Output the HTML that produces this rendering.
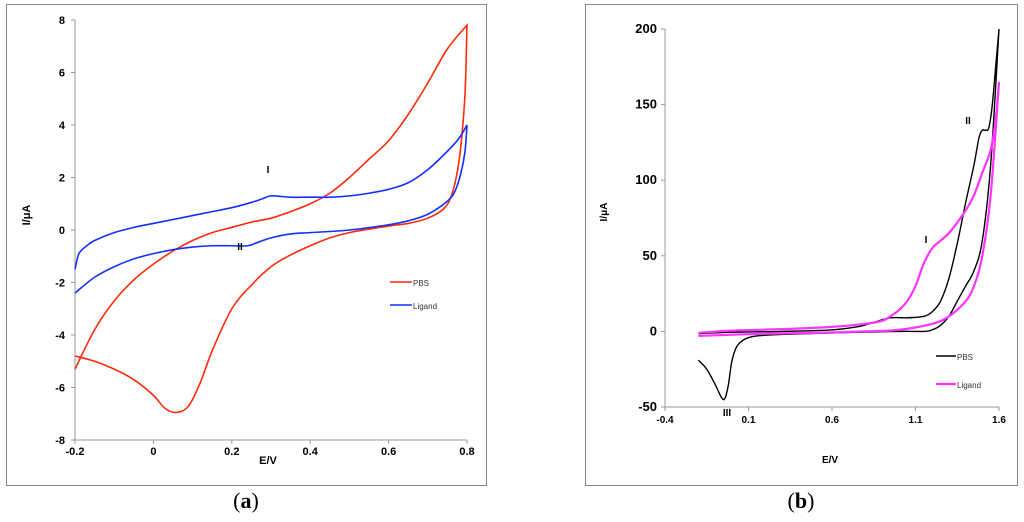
<!DOCTYPE html>
<html><head><meta charset="utf-8"><style>
body{margin:0;background:#fff;width:1024px;height:522px;overflow:hidden;font-family:"Liberation Sans",sans-serif}
svg{position:absolute;left:0;top:0}
</style></head><body>
<svg width="1024" height="522">
<rect x="6.5" y="4.5" width="480" height="481" fill="none" stroke="#888"/>
<rect x="585.5" y="4.5" width="432" height="481" fill="none" stroke="#888"/>
<g id="ga"></g>
<g id="gb"></g>
<text x="246" y="508" font-family="Liberation Serif,serif" font-size="22" text-anchor="middle">(<tspan font-weight="bold">a</tspan>)</text>
<text x="801" y="508" font-family="Liberation Serif,serif" font-size="22" text-anchor="middle">(<tspan font-weight="bold">b</tspan>)</text>
</svg>
<script>
const aXTicks=[-0.2,0,0.2,0.4,0.6,0.8];
const aYTicks=[-8,-6,-4,-2,0,2,4,6,8];
const aPbsX=[-0.2,-0.15,-0.1,-0.05,0,0.05,0.1,0.15,0.2,0.25,0.3,0.35,0.4,0.45,0.5,0.55,0.6,0.65,0.7,0.75,0.8,0.795,0.785,0.775,0.76,0.74,0.7,0.65,0.6,0.5,0.45,0.4,0.35,0.3,0.25,0.2,0.15,0.12,0.09,0.06,0.03,0,-0.05,-0.1,-0.15,-0.2];
const aPbsY=[-5.3,-3.8,-2.7,-1.9,-1.3,-0.8,-0.4,-0.1,0.1,0.3,0.45,0.7,1.0,1.4,2.0,2.7,3.4,4.4,5.6,6.9,7.8,5.2,3.3,2.2,1.3,0.8,0.45,0.25,0.15,-0.1,-0.3,-0.6,-0.95,-1.4,-2.1,-3.0,-4.6,-5.8,-6.7,-6.95,-6.8,-6.3,-5.7,-5.3,-5.0,-4.8];
const aLigX=[-0.2,-0.19,-0.17,-0.15,-0.1,-0.05,0,0.05,0.1,0.15,0.2,0.25,0.28,0.3,0.35,0.4,0.45,0.5,0.55,0.6,0.65,0.7,0.75,0.78,0.8,0.795,0.785,0.77,0.75,0.7,0.65,0.6,0.5,0.4,0.35,0.3,0.27,0.24,0.2,0.15,0.1,0.05,0,-0.05,-0.1,-0.15,-0.2];
const aLigY=[-1.5,-0.9,-0.6,-0.4,-0.1,0.1,0.25,0.4,0.55,0.7,0.85,1.05,1.2,1.3,1.25,1.25,1.25,1.3,1.4,1.55,1.8,2.3,3.0,3.5,4.0,3.0,2.2,1.5,1.1,0.6,0.35,0.2,0.0,-0.1,-0.15,-0.3,-0.45,-0.6,-0.6,-0.6,-0.65,-0.75,-0.9,-1.1,-1.4,-1.8,-2.4];
const bXTicks=[-0.4,0.1,0.6,1.1,1.6];
const bYTicks=[-50,0,50,100,150,200];
const bPbsX=[-0.2,-0.15,-0.1,-0.06,-0.04,-0.02,0,0.03,0.08,0.15,0.3,0.6,1.0,1.15,1.2,1.25,1.3,1.35,1.4,1.45,1.5,1.55,1.6,1.58,1.56,1.54,1.52,1.5,1.48,1.45,1.4,1.35,1.3,1.25,1.2,1.15,1.05,0.95,0.85,0.75,0.6,0.3,0,-0.2];
const bPbsY=[-19,-25,-35,-44,-44,-35,-20,-10,-5,-3,-2,-1,0,0,1,4,10,20,30,40,60,110,200,175,150,135,133,133,128,110,85,58,35,20,13,10,9,9,6,3,1,0,-0.5,-1.5];
const bLigX=[-0.2,0.2,0.5,0.8,1.0,1.2,1.3,1.4,1.45,1.5,1.55,1.6,1.58,1.55,1.5,1.45,1.4,1.35,1.3,1.25,1.2,1.15,1.1,1.05,1.0,0.95,0.9,0.8,0.6,0.3,0,-0.2];
const bLigY=[-3,-1.5,-1,0,1,5,10,20,30,50,90,165,140,120,105,90,80,72,65,60,55,45,30,20,14,10,7,5,3,1.5,0.5,-1];
const NS="http://www.w3.org/2000/svg";
function mk(p,t,at){const e=document.createElementNS(NS,t);for(const k in at)e.setAttribute(k,at[k]);p.appendChild(e);return e;}
function smooth(pts){let d="M"+pts[0][0]+","+pts[0][1];for(let i=0;i<pts.length-1;i++){const p0=pts[Math.max(0,i-1)],p1=pts[i],p2=pts[i+1],p3=pts[Math.min(pts.length-1,i+2)];
d+=" C"+(p1[0]+(p2[0]-p0[0])/6)+","+(p1[1]+(p2[1]-p0[1])/6)+" "+(p2[0]-(p3[0]-p1[0])/6)+","+(p2[1]-(p3[1]-p1[1])/6)+" "+p2[0]+","+p2[1];}return d;}
function chart(g,o){
 const sx=v=>o.x0+(v-o.xmin)/(o.xmax-o.xmin)*(o.x1-o.x0);
 const sy=v=>o.y0-(v-o.ymin)/(o.ymax-o.ymin)*(o.y0-o.y1);
 let e=mk(g,"line",{x1:sx(o.xmin),x2:sx(o.xmin),y1:o.y0,y2:o.y1,stroke:"#999"});
 
 e=mk(g,"line",{x1:o.x0,x2:o.x1,y1:o.y0,y2:o.y0,stroke:"#999"});
 
 o.xt.forEach(v=>{mk(g,"line",{x1:sx(v),x2:sx(v),y1:o.y0,y2:o.y0+4,stroke:"#999"});
  e=mk(g,"text",{x:sx(v),y:o.y0+o.xlo,"text-anchor":"middle","font-size":o.fs,"font-weight":"bold"});e.textContent=o.fmt(v);
  });
 o.yt.forEach(v=>{mk(g,"line",{x1:o.x0-4,x2:o.x0,y1:sy(v),y2:sy(v),stroke:"#999"});
  e=mk(g,"text",{x:o.x0-o.ylo,y:sy(v)+4,"text-anchor":"end","font-size":o.yfs,"font-weight":"bold"});e.textContent=String(v);
  });
 o.series.forEach(s=>{const pts=s.x.map((v,i)=>[sx(v),sy(s.y[i])]);
  let k=0;s.x.forEach((v,i)=>{if(v>s.x[k])k=i;});
  const d=smooth(pts.slice(0,k+1))+" "+smooth(pts.slice(k)).replace("M","L");
  e=mk(g,"path",{d:d,fill:"none",stroke:s.c,"stroke-width":s.w,"stroke-linejoin":"miter"});
  });
}
chart(document.getElementById("ga"),{x0:75,x1:467,y0:440,y1:20,xmin:-0.2,xmax:0.8,ymin:-8,ymax:8,xt:aXTicks,yt:aYTicks,fs:11,yfs:11,xlo:15,ylo:10,
 fmt:v=>String(Math.round(v*10)/10),series:[{x:aPbsX,y:aPbsY,c:"#ff2a0a",w:1.6,n:"pbs-curve"},{x:aLigX,y:aLigY,c:"#1430ff",w:1.6,n:"ligand-curve"}]});
chart(document.getElementById("gb"),{x0:665,x1:999,y0:407,y1:29,xmin:-0.4,xmax:1.6,ymin:-50,ymax:200,xt:bXTicks,yt:bYTicks,fs:10,yfs:13,xlo:16,ylo:8,
 fmt:v=>String(Math.round(v*10)/10),series:[{x:bPbsX,y:bPbsY,c:"#000",w:1.4,n:"pbs-curve"},{x:bLigX,y:bLigY,c:"#ff33ff",w:2.2,n:"ligand-curve"}]});
function txt(x,y,s,at,name){const e=mk(document.querySelector("svg"),"text",Object.assign({x:x,y:y},at));e.textContent=s;
 }
txt(268,464,"E/V",{"font-size":11,"font-weight":"bold","text-anchor":"middle"},"x-axis-title-a");
txt(30,215,"I/μA",{"font-size":11,"font-weight":"bold","text-anchor":"middle",transform:"rotate(-90 30 215)"},"y-axis-title-a");
txt(268,173,"I",{"font-size":10,"font-weight":"bold","text-anchor":"middle"},"peak-label-i");
txt(240,250,"II",{"font-size":10,"font-weight":"bold","text-anchor":"middle"},"peak-label-ii");
txt(830,463,"E/V",{"font-size":10,"font-weight":"bold","text-anchor":"middle"},"x-axis-title-b");
txt(607,212,"I/μA",{"font-size":10,"font-weight":"bold","text-anchor":"middle",transform:"rotate(-90 607 212)"},"y-axis-title-b");
txt(926,243,"I",{"font-size":10,"font-weight":"bold","text-anchor":"middle"},"peak-label-i-b");
txt(968,124,"II",{"font-size":10,"font-weight":"bold","text-anchor":"middle"},"peak-label-ii-b");
txt(727,416,"III",{"font-size":10,"font-weight":"bold","text-anchor":"middle"},"peak-label-iii-b");
const s=document.querySelector("svg");
let l=mk(s,"line",{x1:390,x2:412,y1:282,y2:282,stroke:"#ff2a0a","stroke-width":1.6});
l=mk(s,"line",{x1:390,x2:412,y1:305,y2:305,stroke:"#1430ff","stroke-width":1.6});
txt(413,286,"PBS",{"font-size":8,fill:"#333"},"legend-pbs-a");
txt(413,309,"Ligand",{"font-size":8,fill:"#333"},"legend-ligand-a");
l=mk(s,"line",{x1:936,x2:956,y1:356,y2:356,stroke:"#000","stroke-width":1.4});
l=mk(s,"line",{x1:936,x2:956,y1:384,y2:384,stroke:"#ff33ff","stroke-width":2.2});
txt(957,360,"PBS",{"font-size":8,fill:"#333"},"legend-pbs-b");
txt(957,388,"Ligand",{"font-size":8,fill:"#333"},"legend-ligand-b");
</script>
</body></html>
